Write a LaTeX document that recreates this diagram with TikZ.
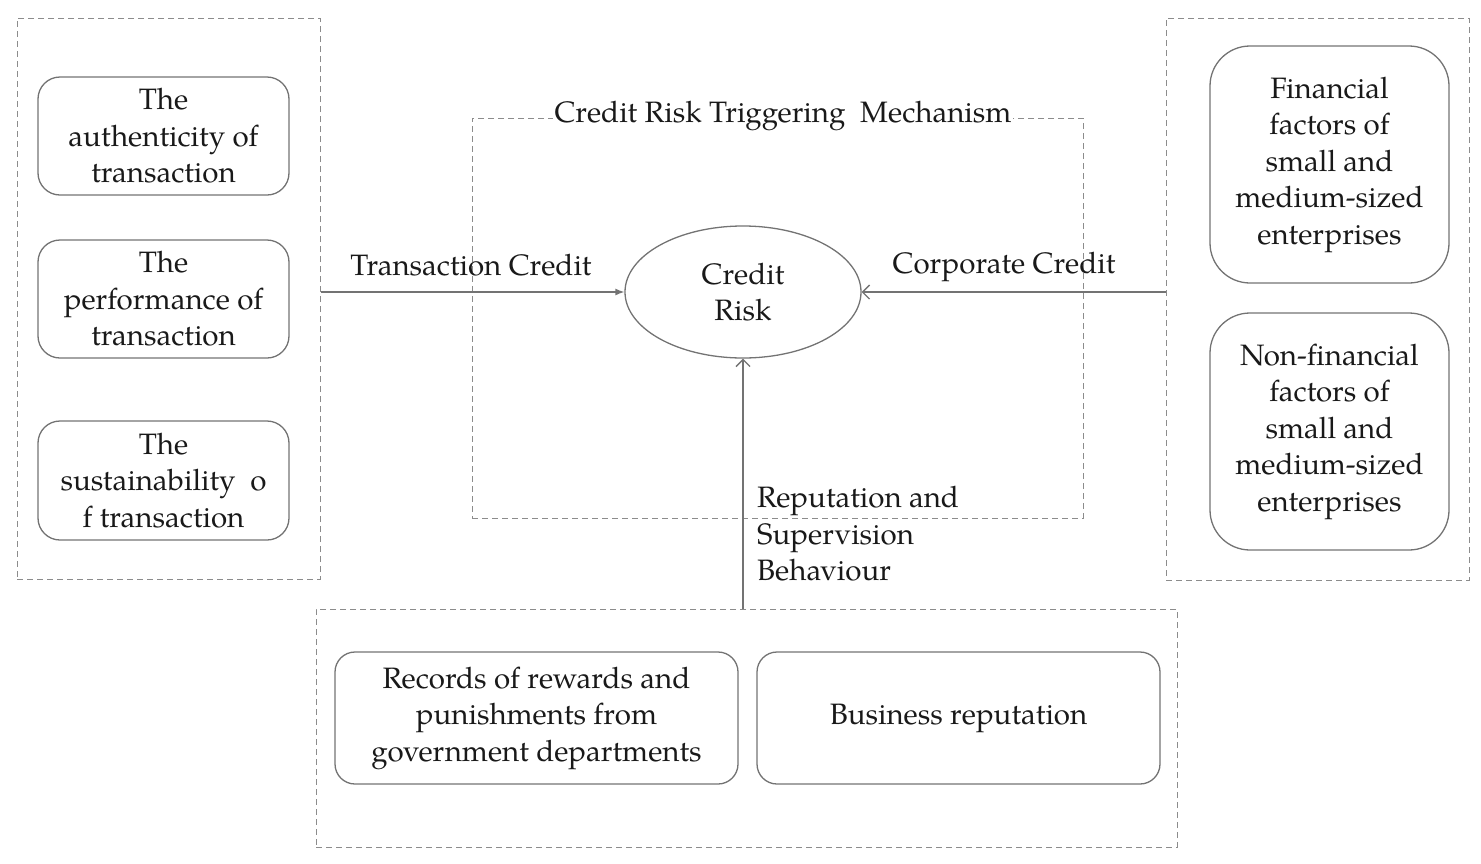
\documentclass[tikz,border=0pt]{standalone}
\usepackage{fontspec}
\setmainfont{TeX Gyre Pagella}
\usetikzlibrary{arrows.meta,shapes.geometric}
\definecolor{txt}{RGB}{25,25,25}
\definecolor{bord}{RGB}{115,115,115}
\definecolor{dsh}{RGB}{140,140,140}
\begin{document}
\begin{tikzpicture}[x=1pt,y=-1pt,
  every node/.style={text=txt,font=\fontsize{29.5}{36.5}\selectfont},
  outer/.style={draw=dsh,line width=1pt,dash pattern=on 6pt off 4pt,minimum width=#1,inner sep=0pt},
  rbox/.style={draw=bord,line width=1.3pt,rounded corners=22pt,align=center,inner sep=0pt},
  lbl/.style={inner sep=0pt,align=left},
  conn/.style={draw=bord,line width=1.3pt}
]
\useasboundingbox (0,0) rectangle (1481,863);
% outer dashed groups
\node[outer=303pt,minimum height=561pt] (L) at (168.5,298.5) {};
\node[outer=303pt,minimum height=562pt] (R) at (1317.5,299) {};
\node[outer=861pt,minimum height=238pt] (B) at (746.5,728) {};
% middle mechanism frame
\node[outer=611pt,minimum height=400pt] (M) at (777.5,318) {};
\node[fill=white,inner sep=2pt] (Mt) at (783,116) {Credit Risk Triggering\ \ Mechanism};
% left boxes
\node[rbox,minimum width=251pt,minimum height=118pt] (l1) at (163.5,136) {The\\authenticity of\\transaction};
\node[rbox,minimum width=251pt,minimum height=118pt] (l2) at (163.5,299) {The\\performance of\\transaction};
\node[rbox,minimum width=251pt,minimum height=119pt] (l3) at (163.5,480.5) {The\\sustainability\ \ o\\f transaction};
% right boxes
\node[rbox,rounded corners=40pt,minimum width=239pt,minimum height=237pt] (r1) at (1329.5,164.5) {Financial\\factors of\\small and\\medium-sized\\enterprises};
\node[rbox,rounded corners=40pt,minimum width=239pt,minimum height=237pt] (r2) at (1329.5,431.5) {Non-financial\\factors of\\small and\\medium-sized\\enterprises};
% bottom boxes
\node[rbox,rounded corners=20pt,minimum width=403pt,minimum height=132pt] (b1) at (536.5,718) {Records of rewards and\\punishments from\\government departments};
\node[rbox,rounded corners=20pt,minimum width=403pt,minimum height=132pt] (b2) at (958.5,718) {Business reputation};
% central ellipse
\node[ellipse,draw=bord,line width=1.3pt,minimum width=236pt,minimum height=132pt,align=center,inner sep=0pt] (C) at (743,292) {Credit\\Risk};
% connectors
\draw[conn,-{Latex[length=9pt,width=7pt]}] (L.east |- C.west) -- (C.west);
\draw[conn,-{Straight Barb[length=7pt,width=14pt]}] (R.west |- C.east) -- (C.east);
\draw[conn,-{Straight Barb[length=7pt,width=14pt]}] (B.north -| C.south) -- (C.south);
% labels
\node[lbl] (tl) at (471,265) {Transaction Credit};
\node[lbl] (cl) at (1004,267) {Corporate Credit};
\node[lbl,anchor=north west] (rl) at (757,486) {Reputation and\\Supervision\\Behaviour};
\end{tikzpicture}
\end{document}
